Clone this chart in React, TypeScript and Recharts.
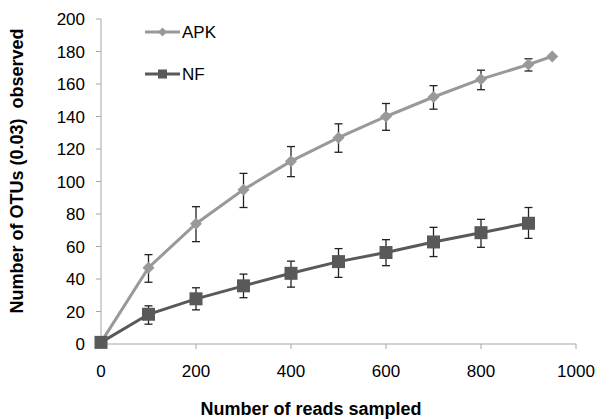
import { ComposedChart, Line, XAxis, YAxis, ErrorBar } from 'recharts';

const READS_APK = [0, 100, 200, 300, 400, 500, 600, 700, 800, 900, 950];
const OTU_APK = [1, 47, 74, 95, 112.5, 127, 140, 152, 163, 172, 177];
const APK_LOW = [1, 38, 63, 84, 103, 118, 131.5, 144.5, 156.5, 168, 177];
const APK_HIGH = [1, 55, 84.5, 105, 121.5, 135.5, 148, 159, 168.5, 175.5, 177];

const READS_NF = [0, 100, 200, 300, 400, 500, 600, 700, 800, 900];
const OTU_NF = [1, 18.3, 27.8, 35.8, 43.5, 50.7, 56.3, 62.8, 68.5, 74.3];
const NF_LOW = [1, 12.2, 21, 28.5, 35, 41, 48.2, 53.8, 59.5, 65];
const NF_HIGH = [1, 23.5, 34.6, 43, 51, 58.7, 64.2, 71.8, 76.7, 84];

const X_TICKS = [0, 200, 400, 600, 800, 1000];
const Y_TICKS = [0, 20, 40, 60, 80, 100, 120, 140, 160, 180, 200];

const APK_COLOR = '#999999';
const NF_COLOR = '#595959';
const AXIS_COLOR = '#a6a6a6';
const FONT = '"Liberation Sans", Arial, sans-serif';

const apkData = READS_APK.map((r, i) => ({
  reads: r,
  otu: OTU_APK[i],
  err: [OTU_APK[i] - APK_LOW[i], APK_HIGH[i] - OTU_APK[i]],
}));
const nfData = READS_NF.map((r, i) => ({
  reads: r,
  otu: OTU_NF[i],
  err: [OTU_NF[i] - NF_LOW[i], NF_HIGH[i] - OTU_NF[i]],
}));

const Diamond = ({ cx, cy, fill, size = 6 }: any) => (
  <path
    d={`M${cx},${cy - size} L${cx + size},${cy} L${cx},${cy + size} L${cx - size},${cy} Z`}
    fill={fill}
  />
);

const Square = ({ cx, cy, fill, size = 6.5 }: any) => (
  <rect x={cx - size} y={cy - size} width={size * 2} height={size * 2} fill={fill} />
);

const LegendBox = () => (
  <svg width={110} height={70} style={{ position: 'absolute', left: 145, top: 23 }}>
    <line x1={0} y1={9} x2={35} y2={9} stroke={APK_COLOR} strokeWidth={3} />
    <Diamond cx={17.5} cy={9} fill={APK_COLOR} size={4.5} />
    <text x={37} y={15} fontFamily={FONT} fontSize={17} fill="#000">APK</text>
    <line x1={0} y1={51} x2={35} y2={51} stroke={NF_COLOR} strokeWidth={3} />
    <Square cx={17.5} cy={51} fill={NF_COLOR} size={4.5} />
    <text x={37} y={57} fontFamily={FONT} fontSize={17} fill="#000">NF</text>
  </svg>
);

export default function App() {
  return (
    <div style={{ position: 'absolute', left: 0, top: 0, width: 599, height: 419, background: '#fff' }}>
      <ComposedChart
        width={599}
        height={419}
        margin={{ left: 41, right: 23, top: 19, bottom: 45 }}
      >
        <XAxis
          dataKey="reads"
          type="number"
          domain={[0, 1000]}
          ticks={X_TICKS}
          allowDuplicatedCategory={false}
          height={30}
          tickSize={5}
          tickMargin={16}
          axisLine={{ stroke: AXIS_COLOR }}
          tickLine={{ stroke: AXIS_COLOR }}
          tick={{ fontFamily: FONT, fontSize: 17, fill: '#000' }}
          label={{
            value: 'Number of reads sampled',
            position: 'insideBottom',
            content: () => (
              <text
                x={311}
                y={415}
                textAnchor="middle"
                fontFamily={FONT}
                fontSize={18}
                fontWeight="bold"
                fill="#000"
              >
                Number of reads sampled
              </text>
            ),
          }}
        />
        <YAxis
          type="number"
          domain={[0, 200]}
          ticks={Y_TICKS}
          width={60}
          tickSize={5}
          tickMargin={11}
          axisLine={{ stroke: AXIS_COLOR }}
          tickLine={{ stroke: AXIS_COLOR }}
          tick={{ fontFamily: FONT, fontSize: 17, fill: '#000' }}
          label={{
            value: 'Number of OTUs (0.03)  observed',
            content: () => (
              <text
                x={23}
                y={171}
                transform="rotate(-90 23 171)"
                textAnchor="middle"
                fontFamily={FONT}
                fontSize={18}
                fontWeight="bold"
                fill="#000"
                style={{ whiteSpace: 'pre' }}
              >
                Number of OTUs (0.03)  observed
              </text>
            ),
          }}
        />
        <Line
          data={apkData}
          dataKey="otu"
          name="APK"
          stroke={APK_COLOR}
          strokeWidth={3}
          dot={(p: any) => <Diamond key={`a-${p.index}`} cx={p.cx} cy={p.cy} fill={APK_COLOR} />}
          activeDot={false}
          isAnimationActive={false}
        >
          <ErrorBar dataKey="err" direction="y" width={4} stroke="#222" strokeWidth={1.3} />
        </Line>
        <Line
          data={nfData}
          dataKey="otu"
          name="NF"
          stroke={NF_COLOR}
          strokeWidth={3}
          dot={(p: any) => <Square key={`n-${p.index}`} cx={p.cx} cy={p.cy} fill={NF_COLOR} />}
          activeDot={false}
          isAnimationActive={false}
        >
          <ErrorBar dataKey="err" direction="y" width={4} stroke="#222" strokeWidth={1.3} />
        </Line>
      </ComposedChart>
      <LegendBox />
    </div>
  );
}
